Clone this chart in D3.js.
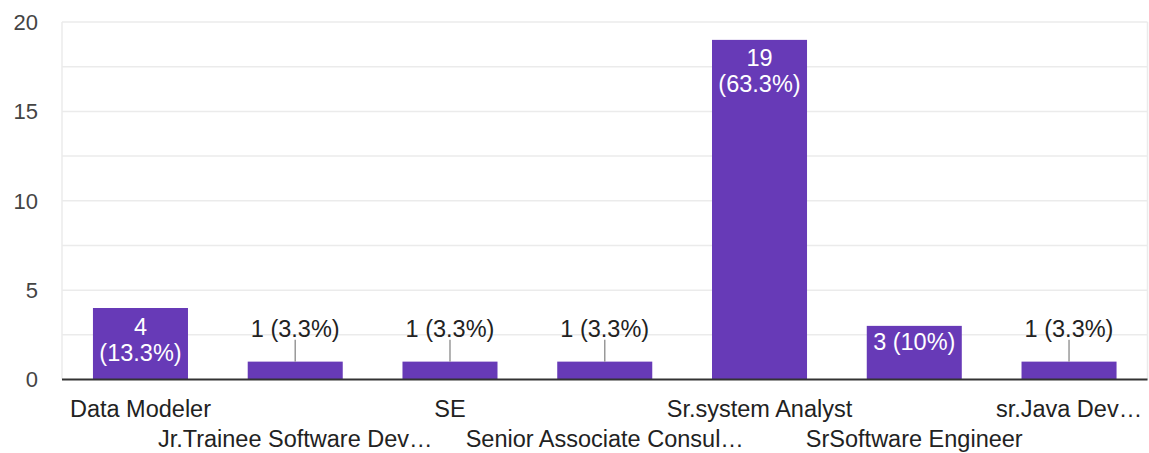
<!DOCTYPE html>
<html>
<head>
<meta charset="utf-8">
<script src="https://cdn.jsdelivr.net/npm/d3@7"></script>
<style>
  body { margin: 0; background: #fff; }
</style>
</head>
<body>
<div id="chart"></div>
<script>
const categories = ["Data Modeler", "Jr.Trainee Software Dev…", "SE", "Senior Associate Consul…",
                    "Sr.system Analyst", "SrSoftware Engineer", "sr.Java Dev…"];
const counts = [4, 1, 1, 1, 19, 3, 1];
const percents = ["13.3%", "3.3%", "3.3%", "3.3%", "63.3%", "10%", "3.3%"];
const yTicks = [0, 5, 10, 15, 20];

const width = 1149, height = 453;
const margin = {top: 22, right: 1.5, bottom: 73.5, left: 62};
const font = "'Liberation Sans', Arial, sans-serif";

const svg = d3.select("#chart").append("svg")
    .attr("width", width)
    .attr("height", height)
    .style("font-family", font);

const x = d3.scaleBand()
    .domain(categories)
    .range([margin.left, width - margin.right])
    .paddingInner(0.386)
    .paddingOuter(0.2);

const y = d3.scaleLinear()
    .domain([0, 20])
    .range([height - margin.bottom, margin.top]);

// grid (minor every 2.5)
svg.append("g").selectAll("line")
    .data(d3.range(2.5, 20.01, 2.5))
    .join("line")
    .attr("x1", margin.left).attr("x2", width - margin.right)
    .attr("y1", d => y(d)).attr("y2", d => y(d))
    .attr("stroke", "#ebebeb")
    .attr("stroke-width", 1.5);

[margin.left, width - margin.right].forEach(px => {
    svg.append("line")
        .attr("x1", px).attr("x2", px)
        .attr("y1", y(20)).attr("y2", y(0))
        .attr("stroke", "#ebebeb")
        .attr("stroke-width", 1.5);
});

// y axis labels
svg.append("g")
    .attr("transform", `translate(${margin.left},0)`)
    .call(d3.axisLeft(y).tickValues(yTicks).tickSize(0).tickPadding(24))
    .call(g => g.select(".domain").remove())
    .selectAll("text")
    .attr("fill", "#444")
    .attr("dy", "0.33em")
    .style("font-size", "22px")
    .style("font-family", font);

// bars
svg.append("g").selectAll("rect")
    .data(categories)
    .join("rect")
    .attr("x", d => x(d))
    .attr("width", x.bandwidth())
    .attr("y", (d, i) => y(counts[i]))
    .attr("height", (d, i) => y(0) - y(counts[i]))
    .attr("fill", "#673ab7");

// baseline
svg.append("line")
    .attr("x1", margin.left).attr("x2", width - margin.right)
    .attr("y1", y(0)).attr("y2", y(0))
    .attr("stroke", "#333")
    .attr("stroke-width", 2);

// value labels
const labels = svg.append("g")
    .style("font-size", "23.5px");

categories.forEach((c, i) => {
    const cx = x(c) + x.bandwidth() / 2;
    const v = counts[i];
    const txt = `${v} (${percents[i]})`;
    if (v === 1) {
        labels.append("line")
            .attr("x1", cx).attr("x2", cx)
            .attr("y1", y(v)).attr("y2", y(v) - 22)
            .attr("stroke", "#999")
            .attr("stroke-width", 1.5);
        labels.append("text")
            .attr("x", cx).attr("y", y(v) - 25)
            .attr("text-anchor", "middle")
            .attr("fill", "#222")
            .text(txt);
    } else if (v === 3) {
        labels.append("text")
            .attr("x", cx).attr("y", y(v) + 24)
            .attr("text-anchor", "middle")
            .attr("fill", "#fff")
            .text(txt);
    } else {
        labels.append("text")
            .attr("x", cx).attr("y", y(v) + 26.5)
            .attr("text-anchor", "middle")
            .attr("fill", "#fff")
            .text(v);
        labels.append("text")
            .attr("x", cx).attr("y", y(v) + 52.5)
            .attr("text-anchor", "middle")
            .attr("fill", "#fff")
            .text(`(${percents[i]})`);
    }
});

// x axis labels, staggered on two rows
svg.append("g")
    .attr("transform", `translate(0,${y(0)})`)
    .call(d3.axisBottom(x).tickSize(0).tickPadding(0))
    .call(g => g.select(".domain").remove())
    .selectAll("text")
    .attr("y", (d, i) => i % 2 === 0 ? 37 : 67.5)
    .attr("dy", 0)
    .attr("fill", "#222")
    .style("font-size", "23.5px")
    .style("font-family", font);
</script>
</body>
</html>
